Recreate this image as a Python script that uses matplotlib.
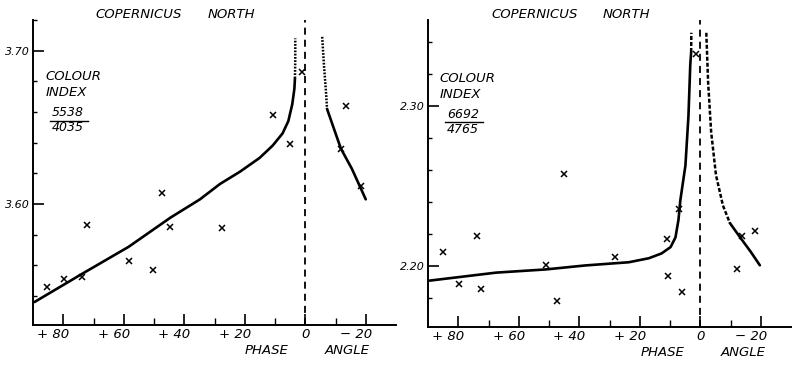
import matplotlib
matplotlib.use("Agg")
import matplotlib.pyplot as plt
from matplotlib.transforms import offset_copy, blended_transform_factory

plt.rcParams['font.family'] = ['DejaVu Sans']
plt.rcParams['font.style'] = 'italic'

# ---------------- data ----------------
# Left panel: colour index 5538/4035
left_obs_phase = [85.4, 79.6, 73.7, 72.1, 58.4, 50.2, 47.2, 44.6, 27.5, 10.8, 5.2, 1.0, -11.8, -13.4, -18.4]
left_obs_ci = [3.546, 3.551, 3.552, 3.586, 3.563, 3.557, 3.607, 3.585, 3.584, 3.658, 3.639, 3.686, 3.636, 3.664, 3.612]

left_fit_pos_phase = [89.5, 74.1, 58.4, 44.6, 34.8, 28.2, 21.6, 15.1, 10.8, 7.5, 5.6, 4.3, 3.6, 3.4]
left_fit_pos_ci = [3.536, 3.554, 3.572, 3.591, 3.603, 3.613, 3.621, 3.630, 3.638, 3.646, 3.654, 3.665, 3.675, 3.682]
left_ext_pos_phase = [3.4, 3.3, 3.3]
left_ext_pos_ci = [3.682, 3.695, 3.708]

left_ext_neg_phase = [-5.6, -6.2, -6.9, -7.2]
left_ext_neg_ci = [3.709, 3.690, 3.672, 3.662]
left_fit_neg_phase = [-7.2, -10.2, -11.8, -15.4, -20.0]
left_fit_neg_ci = [3.662, 3.645, 3.636, 3.623, 3.603]

# Right panel: colour index 6692/4765
right_obs_phase = [85.2, 79.7, 73.8, 72.5, 51.1, 47.5, 44.9, 28.2, 11.1, 10.5, 6.9, 5.9, 1.3, -12.1, -13.8, -18.0]
right_obs_ci = [2.209, 2.189, 2.219, 2.186, 2.201, 2.178, 2.258, 2.206, 2.217, 2.194, 2.236, 2.184, 2.333, 2.198, 2.219, 2.222]

right_fit_pos_phase = [89.5, 67.5, 51.1, 38.0, 23.6, 17.0, 12.8, 9.8, 8.2, 7.2, 6.6, 5.6, 4.9, 3.9, 3.3, 3.0]
right_fit_pos_ci = [2.191, 2.196, 2.198, 2.2005, 2.2025, 2.205, 2.208, 2.212, 2.218, 2.229, 2.241, 2.254, 2.263, 2.294, 2.326, 2.334]
right_ext_pos_phase = [3.0, 2.95]
right_ext_pos_ci = [2.334, 2.346]

right_ext_neg_phase = [-2.0, -2.6, -3.6, -5.2, -7.5, -9.8]
right_ext_neg_ci = [2.346, 2.315, 2.284, 2.257, 2.238, 2.227]
right_fit_neg_phase = [-9.8, -13.4, -16.7, -19.7]
right_fit_neg_ci = [2.227, 2.2175, 2.209, 2.2006]

x_major = [80, 60, 40, 20, 0, -20]
x_minor = [70, 50, 30, 10, -10]
x_labels = ["+ 80", "+ 60", "+ 40", "+ 20", "0", "\u2212 20"]

left_yticks = [3.60, 3.70]
left_yticklabels = ["3.60", "3.70"]
left_yminor = [3.54, 3.56, 3.58, 3.62, 3.64, 3.66, 3.68, 3.72]

right_yticks = [2.20, 2.30]
right_yticklabels = ["2.20", "2.30"]
right_yminor = [2.18, 2.22, 2.24, 2.26, 2.28, 2.32, 2.34]

# ---------------- figure ----------------
W, H = 792, 366
fig = plt.figure(figsize=(W / 100, H / 100), dpi=100)


def px_text(x, y, s, size=9.5, ha='left'):
    fig.text(x / W, 1 - y / H, s, ha=ha, va='center', fontsize=size,
             fontstyle='italic')


def style_axes(ax, ylim, yticks, ylabels, yminor):
    ax.set_xlim(90, -30)
    ax.set_ylim(*ylim)
    for s in ('top', 'right'):
        ax.spines[s].set_visible(False)
    for s in ('left', 'bottom'):
        ax.spines[s].set_linewidth(1.4)
    ax.set_xticks(x_major)
    ax.set_xticks(x_minor, minor=True)
    ax.tick_params(axis='x', which='major', direction='in', length=8, width=1.2,
                   labelbottom=False)
    ax.tick_params(axis='x', which='minor', direction='in', length=5, width=1.0)
    ax.set_yticks(yticks)
    ax.set_yticklabels(ylabels)
    ax.set_yticks(yminor, minor=True)
    ax.tick_params(axis='y', which='major', direction='in', length=8, width=1.2,
                   labelsize=8, pad=2)
    ax.tick_params(axis='y', which='minor', direction='in', length=3, width=1.0)
    for t in ax.get_yticklabels():
        t.set_fontstyle('italic')
    base = blended_transform_factory(ax.transData, ax.transAxes)
    for v, lab in zip(x_major, x_labels):
        if v == 0:
            tr = offset_copy(base, fig=fig, x=0, y=-10, units='dots')
            ax.text(v, 0, lab, transform=tr, ha='center', va='center', fontsize=9.5)
        else:
            tr = offset_copy(base, fig=fig, x=6, y=-10, units='dots')
            ax.text(v, 0, lab, transform=tr, ha='right', va='center', fontsize=9.5)
    ax.axvline(0, color='black', lw=1.3, linestyle=(0, (3.9, 2.8)))


curve_kw = dict(color='black', lw=1.9, solid_capstyle='round', solid_joinstyle='round')
mark_kw = dict(linestyle='none', marker='x', color='black', ms=4, mew=1.1)

# Left panel
axL = fig.add_axes([33 / W, 1 - 325 / H, (396 - 33) / W, (325 - 20) / H])
style_axes(axL, (3.521, 3.719), left_yticks, left_yticklabels, left_yminor)
axL.plot(left_fit_pos_phase, left_fit_pos_ci, **curve_kw)
axL.plot(left_fit_neg_phase, left_fit_neg_ci, **curve_kw)
axL.plot(left_ext_pos_phase, left_ext_pos_ci, color='black', lw=1.8, linestyle=(0, (0.7, 0.6)))
axL.plot(left_ext_neg_phase, left_ext_neg_ci, color='black', lw=1.8, linestyle=(0, (0.7, 0.6)))
axL.plot(left_obs_phase, left_obs_ci, **mark_kw)

# Right panel
axR = fig.add_axes([428 / W, 1 - 327 / H, (791 - 428) / W, (327 - 20) / H])
style_axes(axR, (2.162, 2.354), right_yticks, right_yticklabels, right_yminor)
axR.plot(right_fit_pos_phase, right_fit_pos_ci, **curve_kw)
axR.plot(right_fit_neg_phase, right_fit_neg_ci, **curve_kw)
axR.plot(right_ext_pos_phase, right_ext_pos_ci, color='black', lw=1.8, linestyle=(0, (1.6, 0.8)))
axR.plot(right_ext_neg_phase, right_ext_neg_ci, color='black', lw=1.8, linestyle=(0, (1.6, 0.8)))
axR.plot(right_obs_phase, right_obs_ci, **mark_kw)

# Titles and annotations
px_text(95, 15, "COPERNICUS")
px_text(208, 15, "NORTH")
px_text(491, 15, "COPERNICUS")
px_text(603, 15, "NORTH")

px_text(245, 351, "PHASE")
px_text(325, 351, "ANGLE")
px_text(641, 353, "PHASE")
px_text(721, 353, "ANGLE")

px_text(45, 77, "COLOUR")
px_text(46, 92, "INDEX")
px_text(52, 113, "5538", size=9)
px_text(52, 128, "4035", size=9)
fig.add_artist(plt.Line2D([50 / W, 88 / W], [1 - 121 / H, 1 - 121 / H], color='black', lw=1.0))

px_text(439, 78, "COLOUR")
px_text(440, 95, "INDEX")
px_text(447, 114, "6692", size=9)
px_text(447, 129, "4765", size=9)
fig.add_artist(plt.Line2D([445 / W, 483 / W], [1 - 122 / H, 1 - 122 / H], color='black', lw=1.0))

fig.savefig("out.png", dpi=100)
